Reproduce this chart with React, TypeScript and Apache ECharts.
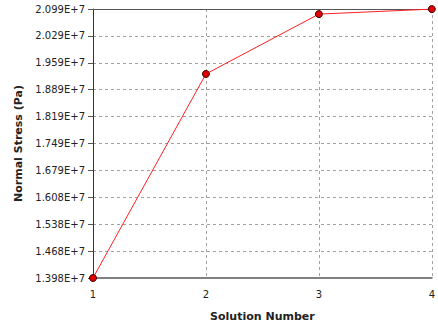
import React, { useEffect, useRef } from "react";
import * as echarts from "echarts";

const solutionNumbers = [1, 2, 3, 4];
const normalStress = [13980000, 19300000, 20860000, 20990000];
const yMin = 13980000;
const yMax = 20993000;
const yInterval = 701300;

export default function App() {
  const ref = useRef<HTMLDivElement>(null);
  useEffect(() => {
    const chart = echarts.init(ref.current!, null, { renderer: "svg" });
    const font = "DejaVu Sans, Verdana, sans-serif";
    chart.setOption({
      animation: false,
      grid: { left: 93, top: 9, right: 2, bottom: 45 },
      xAxis: [
        {
          type: "value",
          min: 1,
          max: 4,
          interval: 1,
          name: "Solution Number",
          nameLocation: "middle",
          nameGap: 33,
          nameTextStyle: { fontFamily: font, fontWeight: "bold", fontSize: 11, color: "#222" },
          axisLine: { show: true, lineStyle: { color: "#808080", width: 2 } },
          axisTick: { show: false },
          axisLabel: { fontFamily: font, fontSize: 10, color: "#222", margin: 11 },
          splitLine: { show: true, lineStyle: { color: "#a0a0a0", type: [3, 3] } },
        },
        {
          type: "value",
          position: "top",
          min: 1,
          max: 4,
          axisLine: { show: true, lineStyle: { color: "#555", width: 1 } },
          axisTick: { show: false },
          axisLabel: { show: false },
          splitLine: { show: false },
        },
      ],
      yAxis: {
        type: "value",
        min: yMin,
        max: yMax,
        interval: yInterval,
        name: "Normal Stress (Pa)",
        nameLocation: "middle",
        nameGap: 68,
        nameTextStyle: { fontFamily: font, fontWeight: "bold", fontSize: 11, color: "#222" },
        axisLine: { show: true, lineStyle: { color: "#333", width: 1 } },
        axisTick: { show: true, length: 5, lineStyle: { color: "#555" } },
        axisLabel: {
          fontFamily: font,
          fontSize: 10,
          color: "#222",
          margin: 8,
          formatter: (v: number) => v.toExponential(3).toUpperCase(),
        },
        splitLine: { show: true, lineStyle: { color: "#a0a0a0", type: [3, 3] } },
      },
      series: [
        {
          type: "line",
          data: solutionNumbers.map((x, i) => [x, normalStress[i]]),
          lineStyle: { color: "#ff2020", width: 1 },
          symbol: "circle",
          symbolSize: 7,
          itemStyle: { color: "#e00000", borderColor: "#400000", borderWidth: 1 },
        },
      ],
    });
    return () => chart.dispose();
  }, []);
  return <div ref={ref} style={{ width: 438, height: 327, position: "absolute", left: 0, top: 0 }} />;
}
